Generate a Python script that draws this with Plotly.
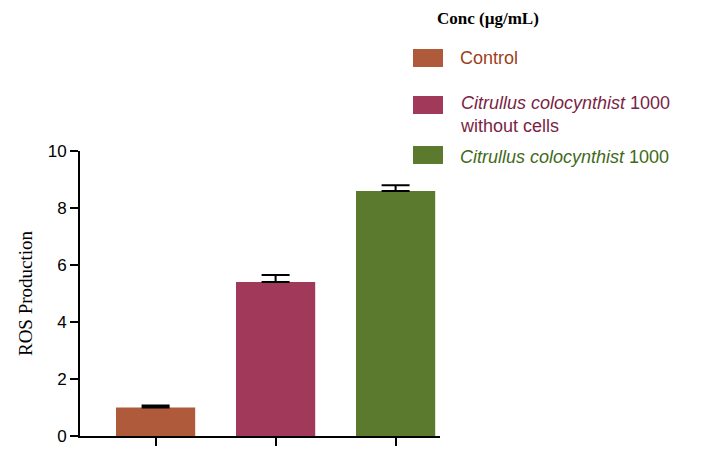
import plotly.graph_objects as go

groups = ["Control", "Citrullus colocynthist 1000 without cells", "Citrullus colocynthist 1000"]
values = [1.0, 5.4, 8.6]
errors = [0.07, 0.25, 0.2]
colors = ["#B05A3C", "#A0395A", "#5B7A2E"]
legend_labels = ["Control",
                 "<i>Citrullus colocynthist</i> 1000<br>without cells",
                 "<i>Citrullus colocynthist</i> 1000"]
text_colors = ["#9B3F22", "#7A1F45", "#3F6A1A"]

OFF = 8  # page offset seen in the rendered output
L, R, T, B = 80 - OFF, 440 - OFF, 151 - OFF, 436 - OFF
W, H = 722, 458

def px(x):
    return (x - OFF - L) / (R - L)

def py(y):
    return (B - (y - OFF)) / (B - T)

fig = go.Figure(go.Bar(
    x=[0, 1, 2], y=values, marker=dict(color=colors, line=dict(width=0)),
    width=0.66,
    error_y=dict(type="data", array=errors, symmetric=False, arrayminus=[0, 0, 0],
                 color="black", thickness=2, width=14),
))

# legend drawn manually (wide swatches like the reference)
fig.add_annotation(x=px(435), y=py(18), xref="paper", yref="paper", text="<b>Conc (µg/mL)</b>",
                   showarrow=False, xanchor="left", yanchor="middle",
                   font=dict(family="Liberation Serif", size=17, color="black"))
swatch_y = [58, 105, 155]
text_y = [58, 114, 157]
for c, tc, lab, sy, ty in zip(colors, text_colors, legend_labels, swatch_y, text_y):
    fig.add_shape(type="rect", xref="paper", yref="paper", x0=px(413), x1=px(443),
                  y0=py(sy + 9), y1=py(sy - 9), fillcolor=c, line=dict(width=0))
    fig.add_annotation(x=px(458), y=py(ty), xref="paper", yref="paper", text=lab,
                       showarrow=False, xanchor="left", yanchor="middle", align="left",
                       font=dict(family="Liberation Sans", size=18, color=tc))

fig.update_layout(
    width=W, height=H, margin=dict(l=L, r=W - R, t=T, b=H - B),
    plot_bgcolor="white", paper_bgcolor="white", showlegend=False,
    xaxis=dict(range=[-0.63, 2.37], showline=True, linecolor="black", linewidth=2,
               tickvals=[0, 1, 2], ticktext=["", "", ""], ticks="outside", ticklen=8,
               tickwidth=2, tickcolor="black", showgrid=False, zeroline=False),
    yaxis=dict(range=[0, 10], showline=True, linecolor="black", linewidth=2,
               tickvals=[0, 2, 4, 6, 8, 10], ticks="outside", ticklen=8, tickwidth=2,
               tickcolor="black", showgrid=False, zeroline=False,
               tickfont=dict(family="Liberation Sans", size=17, color="black"),
               title=dict(text="ROS Production", standoff=10,
                          font=dict(family="Liberation Serif", size=19, color="black"))),
)

fig.write_html("out.html")
